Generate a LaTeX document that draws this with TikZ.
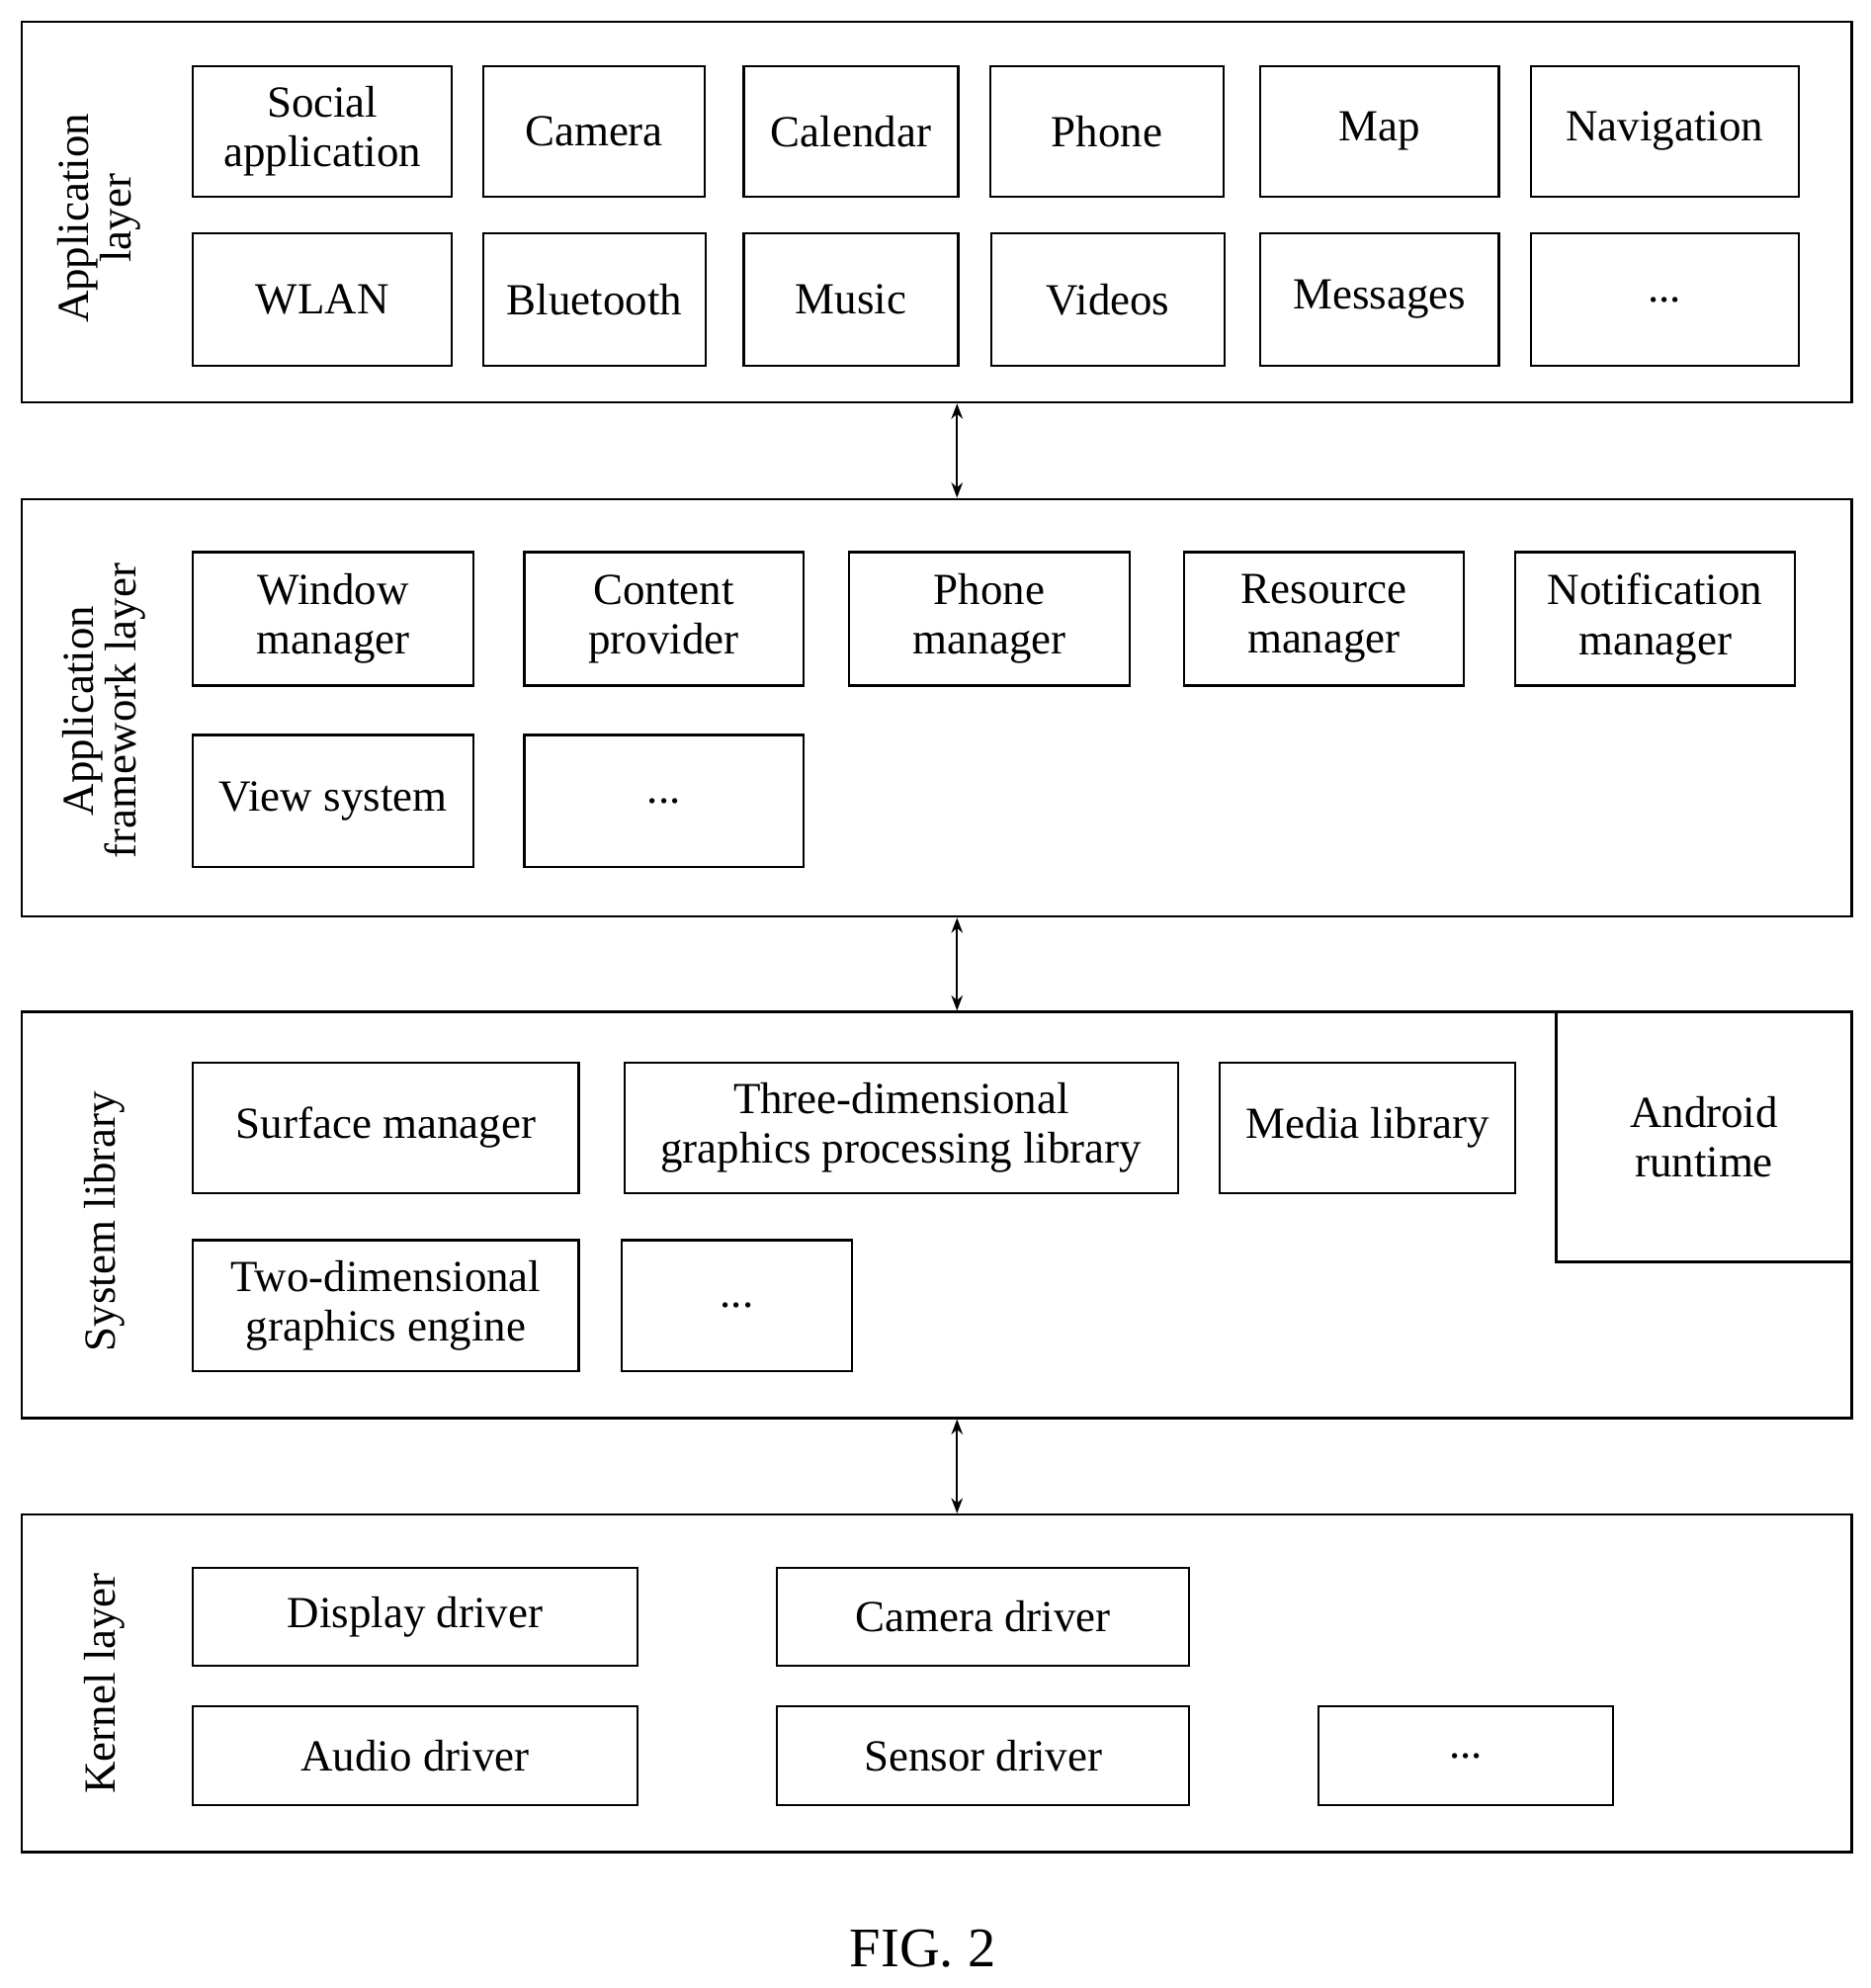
\documentclass[tikz,border=0pt]{standalone}
\usepackage{fontspec}
\setmainfont{Liberation Serif}
\usetikzlibrary{arrows.meta}
\newcommand{\bx}[6]{\node[box,minimum width={(#4-#2)*0.5pt},minimum height={(#5-#3)*0.5pt}] (#1) at ({(#2+#4)/2},{(#3+#5)/2}) {#6};}
\begin{document}
\begin{tikzpicture}[x=0.5pt,y=-0.5pt,
  box/.style={draw,line width=0.9pt,inner sep=0pt,align=center,font=\fontsize{17.5}{19.5}\selectfont},
  lbl/.style={rotate=90,align=center,font=\fontsize{17.5}{17}\selectfont},
  arr/.style={line width=0.9pt,{Stealth[length=6pt,width=4.5pt]}-{Stealth[length=6pt,width=4.5pt]}}]
\useasboundingbox (0,0) rectangle (1474,1566);
% application layer
\bx{L1}{17}{17}{1459}{317}{}
\node[lbl] (t1) at (78,172) {Application\\layer};
\bx{a1}{152}{52}{356}{155}{Social\\application}
\bx{a2}{381}{52}{555}{155}{Camera}
\bx{a3}{586}{52}{755}{155}{Calendar}
\bx{a4}{780}{52}{964}{155}{Phone}
\bx{a5}{993}{52}{1181}{155}{Map}
\bx{a6}{1206}{52}{1417}{155}{Navigation}
\bx{b1}{152}{184}{356}{288}{WLAN}
\bx{b2}{381}{184}{556}{288}{Bluetooth}
\bx{b3}{586}{184}{755}{288}{Music}
\bx{b4}{781}{184}{965}{288}{Videos}
\bx{b5}{993}{184}{1181}{288}{Messages}
\bx{b6}{1206}{184}{1417}{288}{...}
% framework
\bx{L2}{17}{393}{1459}{722}{}
\node[lbl] (t2) at (82,560) {Application\\framework layer};
\bx{f1}{152}{435}{373}{540}{Window\\manager}
\bx{f2}{413}{435}{633}{540}{Content\\provider}
\bx{f3}{669}{435}{890}{540}{Phone\\manager}
\bx{f4}{933}{435}{1153}{540}{Resource\\manager}
\bx{f5}{1194}{435}{1414}{540}{Notification\\manager}
\bx{f6}{152}{579}{373}{683}{View system}
\bx{f7}{413}{579}{633}{683}{...}
% system library
\bx{L3}{17}{797}{1459}{1117}{}
\node[lbl] (t3) at (82,962) {System library};
\bx{s1}{152}{837}{456}{940}{Surface manager}
\bx{s2}{492}{837}{928}{940}{Three-dimensional\\graphics processing library}
\bx{s3}{961}{837}{1194}{940}{Media library}
\bx{s4}{1226}{797}{1459}{994}{Android\\runtime}
\bx{s5}{152}{977}{456}{1080}{Two-dimensional\\graphics engine}
\bx{s6}{490}{977}{671}{1080}{...}
% kernel
\bx{L4}{17}{1193}{1459}{1459}{}
\node[lbl] (t4) at (82,1326) {Kernel layer};
\bx{k1}{152}{1235}{502}{1312}{Display driver}
\bx{k2}{612}{1235}{937}{1312}{Camera driver}
\bx{k3}{152}{1344}{502}{1422}{Audio driver}
\bx{k4}{612}{1344}{937}{1422}{Sensor driver}
\bx{k5}{1039}{1344}{1271}{1422}{...}
% arrows
\draw[arr] (L1.south -| 754,0) -- (L2.north -| 754,0);
\draw[arr] (L2.south -| 754,0) -- (L3.north -| 754,0);
\draw[arr] (L3.south -| 754,0) -- (L4.north -| 754,0);
\node[font=\fontsize{22}{24}\selectfont] (fig) at (727,1535) {FIG. 2};
\end{tikzpicture}
\end{document}
